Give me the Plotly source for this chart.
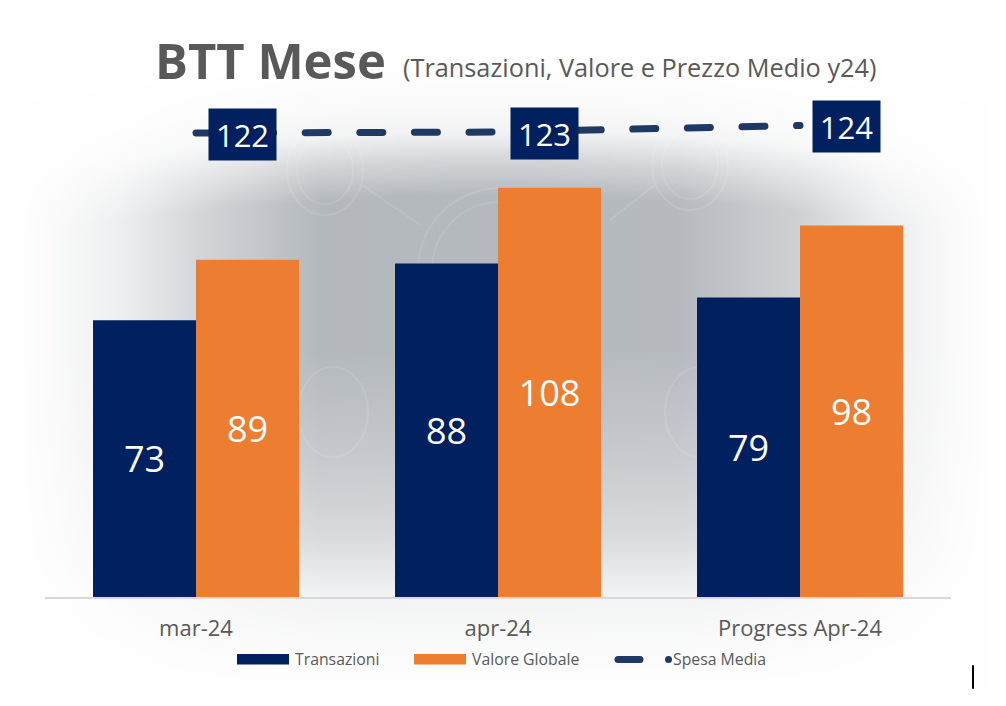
import base64, struct, zlib
import numpy as np
import plotly.graph_objects as go

categories = ["mar-24", "apr-24", "Progress Apr-24"]
transazioni = [73, 88, 79]
valore_globale = [89, 108, 98]
spesa_media = [122.4, 122.6, 124.0]

W, H = 1006, 706
L, R, T, B = 45, 951, 60, 597
NAVY, ORANGE, LINE, GREY = "#002060", "#ED7D31", "#203864", "#595959"
FONT = "Open Sans"


def px(x):
    return (x - L) / (R - L)


def py(y):
    return (B - y) / (B - T)


def backdrop():
    """Soft grey glow behind the chart, encoded as a PNG."""
    ys, xs = np.mgrid[0:H, 0:W]
    ax = np.interp(xs, [15, 60, 120, 200, 320, 680, 800, 880, 950, 990],
                   [0, .07, .22, .55, .95, .92, .6, .25, .07, 0])
    # the upper edge of the glow curves down towards the sides; the lower edge stays straight
    ytop = ys - 45 * ((xs - 500) / 500) ** 2 * np.clip((350 - ys) / 100, 0, 1)
    ay = np.interp(ytop, [60, 100, 130, 160, 195, 350, 450, 540, 597, 650, 695],
                   [0, .05, .16, .58, 1, 1, .78, .5, .16, .05, 0])
    a = ax * ay
    rgb = np.stack([255 - a * (255 - c) for c in (176, 181, 186)], axis=-1).astype(np.uint8)
    raw = b"".join(b"\x00" + row.tobytes() for row in rgb)

    def chunk(tag, data):
        return struct.pack(">I", len(data)) + tag + data + struct.pack(">I", zlib.crc32(tag + data))

    png = (b"\x89PNG\r\n\x1a\n" + chunk(b"IHDR", struct.pack(">IIBBBBB", W, H, 8, 2, 0, 0, 0))
           + chunk(b"IDAT", zlib.compress(raw)) + chunk(b"IEND", b""))
    return "data:image/png;base64," + base64.b64encode(png).decode()


fig = go.Figure()
for name, vals, col in [("Transazioni", transazioni, NAVY), ("Valore Globale", valore_globale, ORANGE)]:
    fig.add_bar(name=name, x=categories, y=vals, marker=dict(color=col, line_width=0),
                text=vals, textposition="inside", insidetextanchor="middle",
                textangle=0, textfont=dict(color="white", size=36, family=FONT, weight=500),
                showlegend=False)
fig.add_scatter(name="Spesa Media", x=categories, y=spesa_media, yaxis="y2", mode="lines",
                line=dict(color=LINE, width=7, dash="23px,31.6px"), showlegend=False)

ann = [
    dict(x=px(153), y=py(60), xref="paper", yref="paper", xanchor="left", yanchor="middle",
         showarrow=False, text="<b>BTT Mese</b>", font=dict(family=FONT, color=GREY, size=49)),
    dict(x=px(401), y=py(67), xref="paper", yref="paper", xanchor="left", yanchor="middle",
         showarrow=False, text="(Transazioni, Valore e Prezzo Medio y24)",
         font=dict(family=FONT, color=GREY, size=25.3)),
]
for c, v in zip(categories, spesa_media):
    ann.append(dict(x=c, y=v, xref="x", yref="y2", xshift=46, yshift=-1, showarrow=False,
                    text=f"{v:.0f}", bgcolor=NAVY, width=65, height=49, align="center", valign="middle",
                    font=dict(color="white", size=31, family=FONT, weight=500)))
for x0, label in [(293, "Transazioni"), (470, "Valore Globale"), (671, "Spesa Media")]:
    ann.append(dict(x=px(x0), y=py(659), xref="paper", yref="paper", xanchor="left", yanchor="middle",
                    showarrow=False, text=label, font=dict(family=FONT, color=GREY, size=15.8)))

shapes = []


def pshape(**kw):
    shapes.append(dict(xref="paper", yref="paper", **kw))


for x0, x1, col in [(237, 289, NAVY), (414, 466, ORANGE)]:
    pshape(type="rect", x0=px(x0), x1=px(x1), y0=py(654), y1=py(664.5), fillcolor=col, line_width=0)
pshape(type="line", x0=px(618), x1=px(640), y0=py(659.5), y1=py(659.5), line=dict(color=LINE, width=7))
pshape(type="circle", x0=px(665), x1=px(672), y0=py(663), y1=py(656), fillcolor=LINE, line_width=0)
pshape(type="line", x0=px(973), x1=px(973), y0=py(666), y1=py(688), line=dict(color="black", width=2))
# faint circuit motif in the backdrop
for cx, cy, rx, ry in [(325, 170, 38, 45), (690, 165, 38, 45), (333, 412, 35, 45), (700, 412, 35, 45),
                       (325, 170, 28, 34), (690, 165, 28, 34), (500, 270, 82, 82), (500, 270, 68, 68)]:
    pshape(type="circle", layer="below", x0=px(cx - rx), x1=px(cx + rx), y0=py(cy + ry), y1=py(cy - ry),
           line=dict(color="rgba(255,255,255,0.11)", width=2))
for a, b, c, d in [(362, 185, 420, 225), (655, 185, 610, 220)]:
    pshape(type="line", layer="below", x0=px(a), x1=px(c), y0=py(b), y1=py(d),
           line=dict(color="rgba(255,255,255,0.11)", width=2))

fig.update_layout(
    width=W, height=H, margin=dict(l=L, r=W - R, t=T, b=H - B, pad=0),
    paper_bgcolor="white", plot_bgcolor="rgba(0,0,0,0)",
    barmode="group", bargap=0.318, bargroupgap=0,
    font=dict(family=FONT, color=GREY),
    xaxis=dict(showgrid=False, zeroline=False, showline=True, linecolor="#D9D9D9", linewidth=2,
               ticks="", tickfont=dict(size=22, color=GREY, family=FONT), ticklabelstandoff=11),
    yaxis=dict(visible=False, range=[0, (B - T) / 3.79]),
    yaxis2=dict(visible=False, overlaying="y", side="right",
                range=[122.4 - (B - 133) / 4.7, 122.4 + (133 - T) / 4.7]),
    annotations=ann, shapes=shapes,
    images=[dict(source=backdrop(), xref="paper", yref="paper", x=px(0), y=py(0), sizex=W / (R - L),
                 sizey=H / (B - T), xanchor="left", yanchor="top", sizing="stretch", layer="below")],
)
round_caps = """
document.body.style.margin='0';
document.querySelectorAll('.scatterlayer .js-line, .layer-above .shapelayer path').forEach(function(p){
  p.style.strokeLinecap='round';
});
"""
fig.write_html("out.html", config={"displayModeBar": False}, post_script=round_caps)
